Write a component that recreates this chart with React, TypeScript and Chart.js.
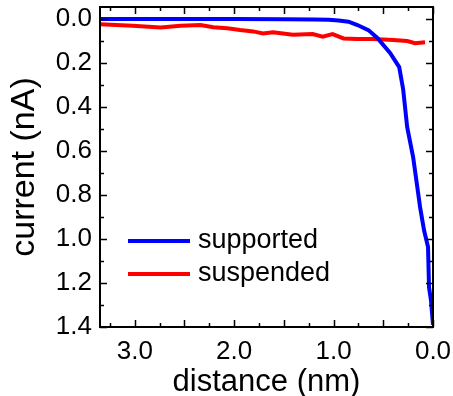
import React, { useEffect, useRef } from "react";
import { Chart, registerables } from "chart.js";

Chart.register(...registerables);

// Supported (blue) series: distance (nm) and current (nA)
const SUPPORTED_X = [3.35, 3.0, 2.5, 2.0, 1.5, 1.2, 1.05, 0.95, 0.85, 0.76, 0.65, 0.56, 0.43, 0.34, 0.3, 0.26, 0.2, 0.15, 0.13, 0.09, 0.05, 0.04, 0.02, 0.0];
const SUPPORTED_Y = [0.0, 0.0, 0.0, 0.0, 0.001, 0.002, 0.003, 0.006, 0.012, 0.027, 0.05, 0.086, 0.155, 0.218, 0.32, 0.49, 0.627, 0.79, 0.855, 0.96, 1.036, 1.22, 1.28, 1.39];

// Suspended (red) series
const SUSPENDED_X = [3.35, 3.02, 2.74, 2.54, 2.34, 2.21, 2.07, 1.94, 1.81, 1.71, 1.61, 1.51, 1.41, 1.21, 1.11, 1.01, 0.9, 0.76, 0.6, 0.4, 0.26, 0.18, 0.08];
const SUSPENDED_Y = [0.023, 0.03, 0.038, 0.03, 0.027, 0.037, 0.042, 0.05, 0.056, 0.065, 0.06, 0.065, 0.071, 0.068, 0.08, 0.068, 0.088, 0.09, 0.09, 0.095, 0.1, 0.11, 0.105];

const X_LABEL_TICKS = [0, 1, 2, 3];
const X_MAJOR_TICKS = [0, 0.5, 1, 1.5, 2, 2.5, 3];
const X_MINOR_TICKS = [0.25, 0.75, 1.25, 1.75, 2.25, 2.75, 3.25];
const Y_LABEL_TICKS = [0, 0.2, 0.4, 0.6, 0.8, 1.0, 1.2, 1.4];
const Y_MINOR_TICKS = [0.1, 0.3, 0.5, 0.7, 0.9, 1.1, 1.3];

const SERIES_LABELS = ["supported", "suspended"];
const SERIES_COLORS = ["#0000ff", "#ff0000"];

const FONT = "'Liberation Sans', Arial, Helvetica, sans-serif";

const framePlugin = {
  id: "frame",
  afterDraw(chart: any) {
    const { ctx, chartArea: a, scales } = chart;
    const xs = scales.x;
    const ys = scales.y;
    ctx.save();
    ctx.strokeStyle = "#000";
    ctx.lineWidth = 2;
    ctx.strokeRect(a.left, a.top, a.right - a.left, a.bottom - a.top);
    ctx.lineWidth = 1.5;
    const major = 7;
    const minor = 4;
    const drawX = (v: number, len: number) => {
      const px = Math.round(xs.getPixelForValue(v)) + 0.5;
      ctx.beginPath();
      ctx.moveTo(px, a.bottom);
      ctx.lineTo(px, a.bottom - len);
      ctx.moveTo(px, a.top);
      ctx.lineTo(px, a.top + len);
      ctx.stroke();
    };
    const drawY = (v: number, len: number) => {
      const py = Math.round(ys.getPixelForValue(v)) + 0.5;
      ctx.beginPath();
      ctx.moveTo(a.left, py);
      ctx.lineTo(a.left + len, py);
      ctx.moveTo(a.right, py);
      ctx.lineTo(a.right - len, py);
      ctx.stroke();
    };
    X_MAJOR_TICKS.forEach((v) => drawX(v, major));
    X_MINOR_TICKS.forEach((v) => drawX(v, minor));
    Y_LABEL_TICKS.forEach((v) => drawY(v, major));
    Y_MINOR_TICKS.forEach((v) => drawY(v, minor));

    // legend inside plot
    const lx = a.left + 28;
    const ly = a.top + 234;
    const rowH = 33;
    chart.data.datasets.forEach((ds: any, i: number) => {
      const y = ly + i * rowH;
      ctx.strokeStyle = ds.borderColor;
      ctx.lineWidth = 4;
      ctx.beginPath();
      ctx.moveTo(lx, y);
      ctx.lineTo(lx + 62, y);
      ctx.stroke();
      ctx.fillStyle = "#000";
      ctx.font = `27px ${FONT}`;
      ctx.textBaseline = "middle";
      ctx.textAlign = "left";
      ctx.fillText(ds.label, lx + 70, y);
    });
    ctx.restore();
  },
};

export default function App() {
  const ref = useRef<HTMLCanvasElement | null>(null);
  useEffect(() => {
    document.body.style.margin = "0";
    const canvas = ref.current!;
    const chart = new Chart(canvas, {
      type: "line",
      data: {
        datasets: [
          {
            label: SERIES_LABELS[0],
            data: SUPPORTED_X.map((x, i) => ({ x, y: SUPPORTED_Y[i] })),
            borderColor: SERIES_COLORS[0],
            backgroundColor: SERIES_COLORS[0],
            borderWidth: 4,
            pointRadius: 0,
            tension: 0,
            fill: false,
          },
          {
            label: SERIES_LABELS[1],
            data: SUSPENDED_X.map((x, i) => ({ x, y: SUSPENDED_Y[i] })),
            borderColor: SERIES_COLORS[1],
            backgroundColor: SERIES_COLORS[1],
            borderWidth: 4,
            pointRadius: 0,
            tension: 0,
            fill: false,
          },
        ],
      },
      options: {
        animation: false,
        responsive: false,
        devicePixelRatio: 1,
        layout: { padding: { top: 7, right: 20, left: 0, bottom: 0 } },
        plugins: { legend: { display: false }, tooltip: { enabled: false } },
        scales: {
          x: {
            type: "linear",
            min: 0,
            max: 3.35,
            reverse: true,
            afterFit: (s: any) => {
              s.height = 69;
              s.paddingLeft = 0;
              s.paddingRight = 0;
            },
            afterBuildTicks: (s: any) => {
              s.ticks = X_LABEL_TICKS.map((v) => ({ value: v }));
            },
            grid: { display: false, drawTicks: false },
            border: { display: false },
            ticks: {
              autoSkip: false,
              maxRotation: 0,
              padding: 9,
              color: "#000",
              font: { family: FONT, size: 26 },
              callback: (v: any) => Number(v).toFixed(1),
            },
            title: {
              display: true,
              text: "distance (nm)",
              color: "#000",
              font: { family: FONT, size: 31, lineHeight: 1 },
              padding: { top: 0, bottom: -2 },
            },
          },
          y: {
            type: "linear",
            min: -0.055,
            max: 1.4,
            reverse: true,
            afterFit: (s: any) => {
              s.width = 100;
              s.paddingTop = 0;
              s.paddingBottom = 0;
            },
            afterBuildTicks: (s: any) => {
              s.ticks = Y_LABEL_TICKS.map((v) => ({ value: v }));
            },
            grid: { display: false, drawTicks: false },
            border: { display: false },
            ticks: {
              autoSkip: false,
              padding: 8,
              color: "#000",
              font: { family: FONT, size: 26 },
              callback: (v: any) => Number(v).toFixed(1),
            },
            title: {
              display: true,
              text: "current (nA)",
              color: "#000",
              font: { family: FONT, size: 34, lineHeight: 1 },
              padding: { top: 8, bottom: 0 },
            },
          },
        },
      },
      plugins: [framePlugin],
    });
    return () => chart.destroy();
  }, []);
  return <canvas ref={ref} width={453} height={396} style={{ display: "block" }} />;
}
